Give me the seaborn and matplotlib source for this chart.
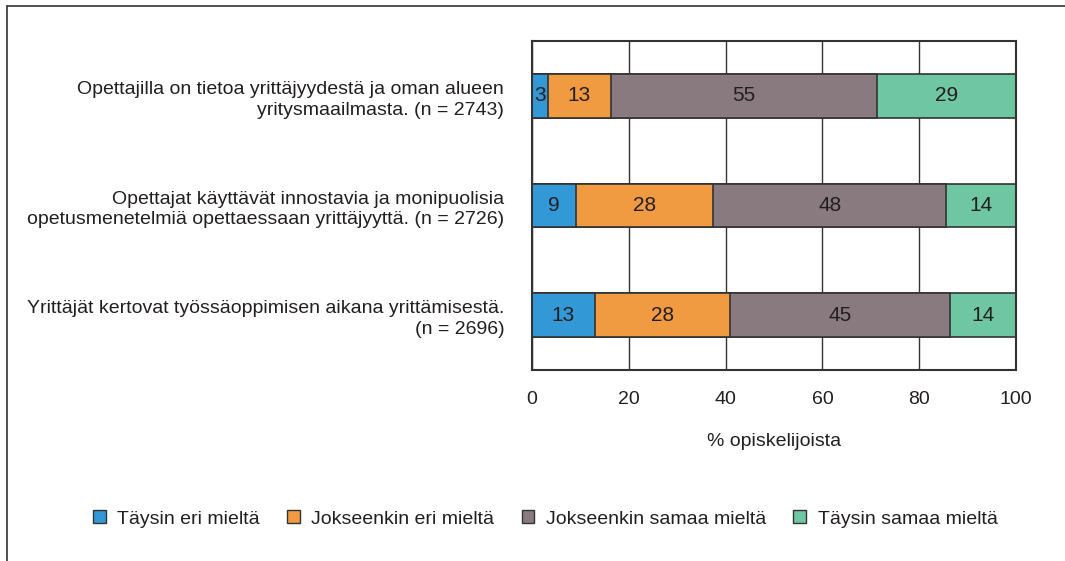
import numpy as np
import pandas as pd
import seaborn as sns
import matplotlib.pyplot as plt
from matplotlib.patches import Patch
from matplotlib.lines import Line2D

# Data (% of students)
questions = [
    'Opettajilla on tietoa yrittäjyydestä ja oman alueen\nyritysmaailmasta. (n = 2743)',
    'Opettajat käyttävät innostavia ja monipuolisia\nopetusmenetelmiä opettaessaan yrittäjyyttä. (n = 2726)',
    'Yrittäjät kertovat työssäoppimisen aikana yrittämisestä.\n(n = 2696)',
]
categories = ['Täysin eri mieltä', 'Jokseenkin eri mieltä',
              'Jokseenkin samaa mieltä', 'Täysin samaa mieltä']
taysin_eri = [3.3, 9.1, 13.0]
jokseenkin_eri = [13.0, 28.3, 28.0]
jokseenkin_samaa = [55.0, 48.2, 45.4]
taysin_samaa = [28.7, 14.4, 13.6]
colors = ['#3398D6', '#F09A42', '#887A7E', '#6EC6A2']

df = pd.DataFrame({categories[0]: taysin_eri, categories[1]: jokseenkin_eri,
                   categories[2]: jokseenkin_samaa, categories[3]: taysin_samaa},
                  index=questions)
cum = df.cumsum(axis=1)

sns.set_style('white')
plt.rcParams['font.family'] = ['Liberation Sans', 'DejaVu Sans']

fig = plt.figure(figsize=(10.65, 5.61), dpi=100)
ax = fig.add_axes([532 / 1065, 1 - 370 / 561, 484 / 1065, 329 / 561])

# stacked bars: draw cumulative totals from the last segment backwards
for i in reversed(range(len(categories))):
    sns.barplot(x=cum.iloc[:, i].values, y=questions, orient='h', color=colors[i],
                saturation=1, width=0.4, edgecolor='#333333', linewidth=1.2, ax=ax)

# value labels
for r, q in enumerate(questions):
    for i, c in enumerate(categories):
        val = df.loc[q, c]
        center = cum.loc[q, c] - val / 2
        ax.text(center, r, f'{round(val):d}', ha='center', va='center',
                fontsize=15, color='#231F20')

ax.set_xlim(0, 100)
ax.set_ylim(2.5, -0.5)
ax.set_xticks([0, 20, 40, 60, 80, 100])
ax.grid(axis='x', color='#333333', linewidth=1)
ax.grid(axis='y', visible=False)
ax.set_axisbelow(True)
for s in ax.spines.values():
    s.set_color('#333333')
    s.set_linewidth(1.5)
ax.tick_params(axis='x', length=0, pad=15, labelsize=14, labelcolor='#231F20')
ax.tick_params(axis='y', length=0, pad=20, labelsize=14, labelcolor='#231F20')
for lbl in ax.get_yticklabels():
    lbl.set_linespacing(1.3)
ax.set_xlabel('% opiskelijoista', fontsize=14, color='#231F20', labelpad=18)
ax.set_ylabel('')

handles = [Patch(facecolor=colors[i], edgecolor='#333333', linewidth=1, label=categories[i])
           for i in range(len(categories))]
fig.legend(handles=handles, loc='center', bbox_to_anchor=(0.512, 0.075), ncol=4,
           frameon=False, fontsize=14, handlelength=0.65, handleheight=0.65,
           handletextpad=0.6, columnspacing=1.4, labelcolor='#231F20')

# outer frame (top and left edges)
fig.add_artist(Line2D([7 / 1065, 1], [1 - 6 / 561, 1 - 6 / 561], color='#333333', linewidth=1.2))
fig.add_artist(Line2D([7 / 1065, 7 / 1065], [0, 1 - 6 / 561], color='#333333', linewidth=1.2))

fig.savefig('out.png', dpi=100)
